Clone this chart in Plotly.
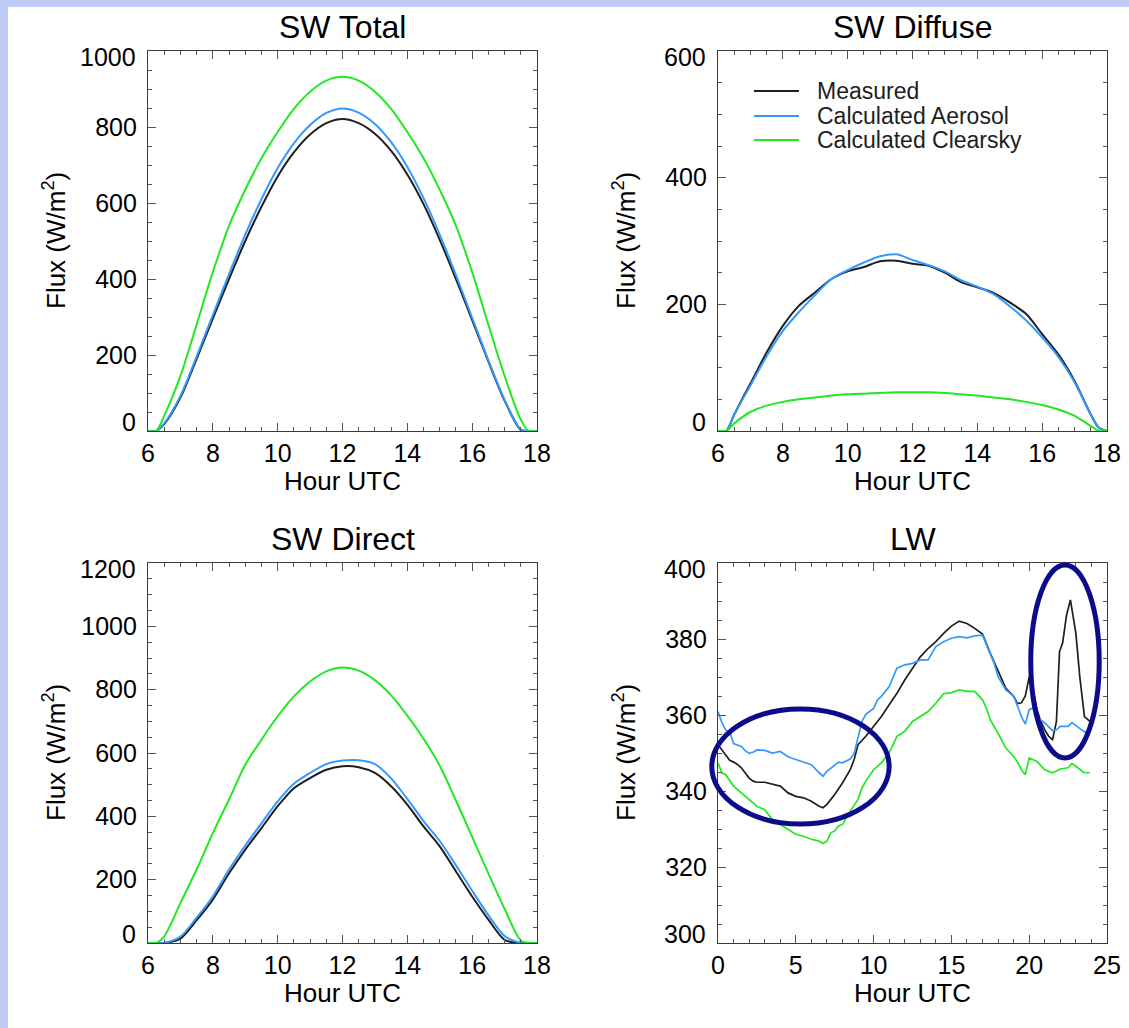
import plotly.graph_objects as go

# ---------------- data ----------------
series_names = ["Measured", "Calculated Aerosol", "Calculated Clearsky"]
series_colors = ["#1e1e1e", "#3399ff", "#22e822"]

# shortwave panels share one hour grid
sw_hours = [6.0, 6.25, 6.5, 7.0, 7.5, 8.0, 8.5, 9.0, 9.5, 10.0, 10.5, 11.0, 11.5,
            12.0, 12.5, 13.0, 13.5, 14.0, 14.5, 15.0, 15.5, 16.0, 16.5, 17.0,
            17.5, 17.75, 18.0]

total_measured = [0, 0, 18, 88, 190, 296, 400, 500, 590, 670, 733, 780, 810,
                  821, 810, 782, 737, 675, 597, 503, 400, 292, 183, 80, 3, 0, 0]
total_aerosol = [0, 0, 20, 92, 196, 305, 413, 517, 610, 692, 757, 805, 837,
                 849, 838, 808, 760, 695, 613, 517, 410, 298, 186, 82, 4, 0, 0]
total_clearsky = [0, 0, 40, 145, 280, 418, 540, 635, 718, 787, 848, 893, 922,
                  932, 922, 893, 848, 787, 718, 635, 540, 418, 280, 145, 30, 0, 0]

diffuse_measured = [0, 0, 26, 75, 124, 166, 198, 219, 240, 252, 259, 268, 269,
                    264, 261, 250, 235, 227, 218, 203, 185, 153, 121, 79, 26, 5, 0]
diffuse_aerosol = [0, 0, 26, 72, 118, 158, 188, 215, 240, 254, 266, 276, 279,
                   270, 262, 252, 238, 228, 216, 197, 175, 148, 117, 77, 26, 5, 0]
diffuse_clearsky = [0, 0, 12, 30, 40, 46, 50, 53, 56, 58, 59, 60, 61,
                    61, 61, 60, 58, 56, 53, 50, 46, 41, 34, 24, 8, 0, 0]

direct_measured = [0, 0, 0, 14, 72, 137, 220, 295, 363, 432, 489, 521, 547,
                   558, 555, 537, 495, 437, 368, 305, 226, 147, 74, 10, 0, 0, 0]
direct_aerosol = [0, 0, 0, 20, 80, 147, 232, 308, 378, 447, 503, 537, 565,
                  576, 577, 565, 520, 455, 385, 322, 245, 165, 88, 22, 0, 0, 0]
direct_clearsky = [0, 0, 21, 126, 232, 347, 453, 563, 642, 716, 779, 826, 858,
                   870, 860, 830, 782, 718, 645, 560, 450, 335, 220, 108, 8, 0, 0]

# longwave, full day
lw_measured_hours = [0, 0.25, 0.5, 0.75, 1.0, 1.25, 1.5, 1.75, 2.0, 2.25, 2.5, 3.0,
                     3.5, 4.0, 4.5, 5.0, 5.5, 6.0, 6.5, 6.75, 7.0, 7.5, 8.0, 8.5,
                     8.75, 9.0, 9.5, 10.0, 10.5, 11.0, 11.5, 12.0, 12.5, 13.0, 13.5,
                     14.0, 14.5, 15.0, 15.5, 16.0, 16.5, 17.0, 17.5, 18.0, 18.5,
                     19.0, 19.25, 19.5, 19.75, 20.0, 20.25, 20.5, 20.75, 21.0, 21.25,
                     21.5, 21.75, 21.95, 22.15, 22.4, 22.65, 23.0, 23.25, 23.55, 23.75, 23.9]
lw_measured = [352.2, 350.9, 349.3, 348.1, 347.6, 347.0, 346.1, 344.8, 343.4, 342.6,
               342.3, 342.3, 341.7, 341.3, 339.5, 338.6, 338.2, 337.3, 336.0, 335.6,
               336.5, 339.1, 342.1, 345.6, 348.3, 352.2, 354.4, 357.0, 359.6, 362.7,
               365.7, 369.2, 372.3, 375.3, 377.5, 379.3, 381.5, 383.4, 384.7, 384.1,
               382.8, 381.3, 376.2, 371.4, 367.0, 364.9, 363.0, 363.2, 365.0, 370.0,
               366.6, 361.4, 358.3, 356.1, 354.4, 353.5, 358.3, 376.7, 379.0, 386.3,
               390.3, 381.5, 370.1, 359.6, 358.7, 358.3]

lw_aerosol_hours = [0, 0.25, 0.5, 0.75, 1.0, 1.25, 1.5, 1.75, 2.0, 2.25, 2.5, 3.0,
                    3.5, 4.0, 4.5, 5.0, 5.5, 6.0, 6.5, 6.75, 7.0, 7.5, 7.75, 8.0,
                    8.5, 8.75, 9.0, 9.25, 9.5, 10.0, 10.25, 10.5, 11.0, 11.5, 12.0,
                    12.5, 13.0, 13.5, 14.0, 14.5, 15.0, 15.5, 16.0, 16.5, 17.0, 17.5,
                    17.75, 18.0, 18.5, 19.0, 19.5, 19.75, 20.0, 20.25, 20.5, 20.75,
                    21.0, 21.5, 21.75, 22.0, 22.5, 22.75, 23.0, 23.5, 23.9]
lw_aerosol = [360.9, 358.0, 356.0, 355.6, 352.5, 352.2, 351.7, 350.6, 349.9, 350.2,
              350.8, 350.7, 350.0, 350.4, 349.0, 348.3, 347.5, 346.9, 344.8, 343.9,
              345.2, 346.8, 347.6, 347.4, 348.4, 349.9, 354.4, 358.3, 360.2, 361.7,
              364.0, 364.9, 367.5, 372.3, 373.2, 373.6, 374.5, 374.5, 378.0, 379.3,
              380.2, 380.6, 380.3, 380.8, 381.0, 375.8, 373.6, 370.1, 366.6, 365.0,
              359.6, 357.6, 361.4, 361.8, 359.6, 358.7, 357.9, 355.9, 356.1, 357.0,
              357.0, 358.0, 357.2, 355.7, 354.8]

lw_clearsky_hours = [0, 0.25, 0.5, 1.0, 1.5, 2.0, 2.5, 3.0, 3.5, 4.0, 4.5, 5.0, 5.5,
                     6.0, 6.5, 6.75, 7.0, 7.25, 7.5, 7.75, 8.0, 8.5, 9.0, 9.25, 9.5,
                     10.0, 10.5, 11.0, 11.5, 12.0, 12.5, 13.0, 13.5, 14.0, 14.5, 15.0,
                     15.5, 16.0, 16.5, 17.0, 17.25, 17.5, 18.0, 18.5, 19.0, 19.25,
                     19.5, 19.75, 20.0, 20.5, 21.0, 21.5, 22.0, 22.5, 22.75, 23.0,
                     23.5, 23.9]
lw_clearsky = [347.4, 344.8, 344.3, 341.3, 339.5, 337.8, 336.0, 335.1, 332.5, 331.2,
               329.9, 328.6, 328.1, 327.3, 326.8, 326.2, 326.8, 329.0, 329.5, 330.8,
               331.2, 334.7, 337.8, 340.8, 342.6, 345.6, 347.4, 350.0, 354.4, 355.7,
               358.3, 359.6, 360.9, 363.1, 365.6, 365.9, 366.6, 366.2, 366.2, 364.0,
               361.8, 358.7, 355.2, 351.3, 349.1, 347.6, 345.6, 344.3, 348.7, 347.8,
               345.6, 344.8, 345.8, 346.1, 347.2, 346.5, 344.9, 344.8]

# highlighted regions on the LW panel: (x0, x1, y0, y1) in hours / W m-2
lw_highlights = [(-0.4, 11.0, 331.3, 361.6), (20.1, 24.5, 348.7, 399.5)]

# ---------------- figure ----------------
W, H = 1129, 1028
FONT = "Liberation Sans, Arial, Helvetica, sans-serif"
TICK = "#555555"


def px(x):
    return x / W


def py(y):
    return 1 - y / H


# panel boxes in pixels: (left, right, top, bottom)
boxes = {
    1: (148, 537, 51, 431),
    2: (718, 1107, 51, 431),
    3: (148, 537, 563, 943),
    4: (718, 1107, 563, 943),
}

axis_specs = {
    1: dict(xr=[6, 18], xdt=2, xmn=0.5, yr=[0, 1000], ydt=200, ymn=50),
    2: dict(xr=[6, 18], xdt=2, xmn=0.5, yr=[0, 600], ydt=200, ymn=50),
    3: dict(xr=[6, 18], xdt=2, xmn=0.5, yr=[0, 1200], ydt=200, ymn=50),
    4: dict(xr=[0, 25], xdt=5, xmn=1, yr=[300, 400], ydt=20, ymn=5),
}

sw_panels = {
    1: [total_measured, total_aerosol, total_clearsky],
    2: [diffuse_measured, diffuse_aerosol, diffuse_clearsky],
    3: [direct_measured, direct_aerosol, direct_clearsky],
}

fig = go.Figure()

for idx, ys in sw_panels.items():
    sfx = "" if idx == 1 else str(idx)
    for name, color, vals in zip(series_names, series_colors, ys):
        fig.add_trace(go.Scatter(
            x=sw_hours, y=vals, name=name, mode="lines",
            line=dict(color=color, width=2, shape="spline", smoothing=0.8),
            xaxis="x" + sfx, yaxis="y" + sfx, showlegend=False))

lw_sets = [(lw_measured_hours, lw_measured), (lw_aerosol_hours, lw_aerosol),
           (lw_clearsky_hours, lw_clearsky)]
for name, color, (hrs, vals) in zip(series_names, series_colors, lw_sets):
    fig.add_trace(go.Scatter(
        x=hrs, y=vals, name=name, mode="lines",
        line=dict(color=color, width=1.7),
        xaxis="x4", yaxis="y4", showlegend=False))

layout = dict(
    template="none",
    width=W, height=H, autosize=False,
    margin=dict(l=0, r=0, t=0, b=0, pad=0),
    paper_bgcolor="#c0ccf5", plot_bgcolor="rgba(0,0,0,0)",
    showlegend=False,
    font=dict(family=FONT, color="black"),
)

common = dict(
    automargin=False, showline=True, linecolor="#3a3a3a", linewidth=1.2, mirror=True,
    ticks="inside", ticklen=8, tickwidth=1, tickcolor=TICK,
    showgrid=False, zeroline=False,
    tickfont=dict(family=FONT, size=25, color="black"),
)
# tick-only axes for the top and right edges of each box
edge = dict(
    automargin=False, showline=False, showgrid=False, zeroline=False,
    showticklabels=False, ticks="inside", ticklen=8, tickwidth=1, tickcolor=TICK,
)

annotations = []
n_axes = len(axis_specs)
for i, spec in axis_specs.items():
    l, r, t, b = boxes[i]
    sfx = "" if i == 1 else str(i)
    xminor = dict(dtick=spec["xmn"], ticks="inside", ticklen=4, tickcolor=TICK)
    yminor = dict(dtick=spec["ymn"], ticks="inside", ticklen=4, tickcolor=TICK)
    y0, y1, ydt = spec["yr"][0], spec["yr"][1], spec["ydt"]
    # inner labels sit on their ticks; the two end labels are set inside the box
    inner = list(range(y0 + ydt, y1, ydt))

    layout["xaxis" + sfx] = dict(
        common, domain=[px(l), px(r)], range=spec["xr"], dtick=spec["xdt"],
        tick0=spec["xr"][0], anchor="y" + sfx, minor=xminor)
    layout["yaxis" + sfx] = dict(
        common, domain=[py(b), py(t)], range=spec["yr"], tickmode="array",
        tickvals=inner, ticktext=[str(v) for v in inner], anchor="x" + sfx,
        minor=yminor, ticklabelstandoff=5)

    ex = str(i + n_axes)
    layout["xaxis" + ex] = dict(
        edge, domain=[px(l), px(r)], range=spec["xr"], dtick=spec["xdt"],
        tick0=spec["xr"][0], side="top", overlaying="x" + sfx, anchor="y" + sfx,
        minor=xminor)
    layout["yaxis" + ex] = dict(
        edge, domain=[py(b), py(t)], range=spec["yr"], dtick=ydt, tick0=y0,
        side="right", overlaying="y" + sfx, anchor="x" + sfx, minor=yminor)

    for v, shift in ((y0, 9), (y1, -6)):
        annotations.append(dict(
            text=str(v), xref="paper", yref="y" + sfx, x=px(l - 10), y=v, yshift=shift,
            xanchor="right", yanchor="middle", showarrow=False,
            font=dict(family=FONT, size=25, color="black")))

# placeholders so the edge axes are laid out
for i in axis_specs:
    ex = str(i + n_axes)
    fig.add_trace(go.Scatter(x=[], y=[], xaxis="x" + ex, yaxis="y" + ex,
                             showlegend=False, hoverinfo="skip"))

fig.update_layout(**layout)

# white page with a thin tinted frame on the top and left
shapes = [dict(type="rect", xref="paper", yref="paper", x0=px(8), x1=1.01, y0=-0.01, y1=py(7),
               fillcolor="white", line=dict(width=0), layer="below")]

# highlight ellipses, converted from data units to the LW panel's domain
xr4, yr4 = axis_specs[4]["xr"], axis_specs[4]["yr"]
for x0, x1, y0, y1 in lw_highlights:
    shapes.append(dict(
        type="circle", xref="x4 domain", yref="y4 domain",
        x0=(x0 - xr4[0]) / (xr4[1] - xr4[0]), x1=(x1 - xr4[0]) / (xr4[1] - xr4[0]),
        y0=(y0 - yr4[0]) / (yr4[1] - yr4[0]), y1=(y1 - yr4[0]) / (yr4[1] - yr4[0]),
        line=dict(color="#0b0b8c", width=5)))

# legend keys inside the SW Diffuse panel
legend_rows = [91, 116, 140]
for name, color, ry in zip(series_names, series_colors, legend_rows):
    shapes.append(dict(type="line", xref="paper", yref="paper",
                       x0=px(754), x1=px(799), y0=py(ry), y1=py(ry),
                       line=dict(color=color, width=2)))
    annotations.append(dict(text=name, xref="paper", yref="paper", x=px(815), y=py(ry),
                            xanchor="left", yanchor="middle", showarrow=False,
                            font=dict(family=FONT, size=23, color="#1e1e1e")))

titles = {1: "SW Total", 2: "SW Diffuse", 3: "SW Direct", 4: "LW"}
ytitle = "Flux (W/m<sup>2</sup>)"
for i, (l, r, t, b) in boxes.items():
    cx = (l + r) / 2
    annotations.append(dict(text=titles[i], xref="paper", yref="paper", x=px(cx), y=py(t - 24),
                            xanchor="center", yanchor="middle", showarrow=False,
                            font=dict(family=FONT, size=32, color="black")))
    annotations.append(dict(text="Hour UTC", xref="paper", yref="paper", x=px(cx), y=py(b + 50),
                            xanchor="center", yanchor="middle", showarrow=False,
                            font=dict(family=FONT, size=26, color="black")))
    annotations.append(dict(text=ytitle, xref="paper", yref="paper", x=px(l - 94), y=py((t + b) / 2),
                            xanchor="center", yanchor="middle", showarrow=False, textangle=-90,
                            font=dict(family=FONT, size=26, color="black")))

fig.update_layout(shapes=shapes, annotations=annotations)

fig.write_html("out.html")
